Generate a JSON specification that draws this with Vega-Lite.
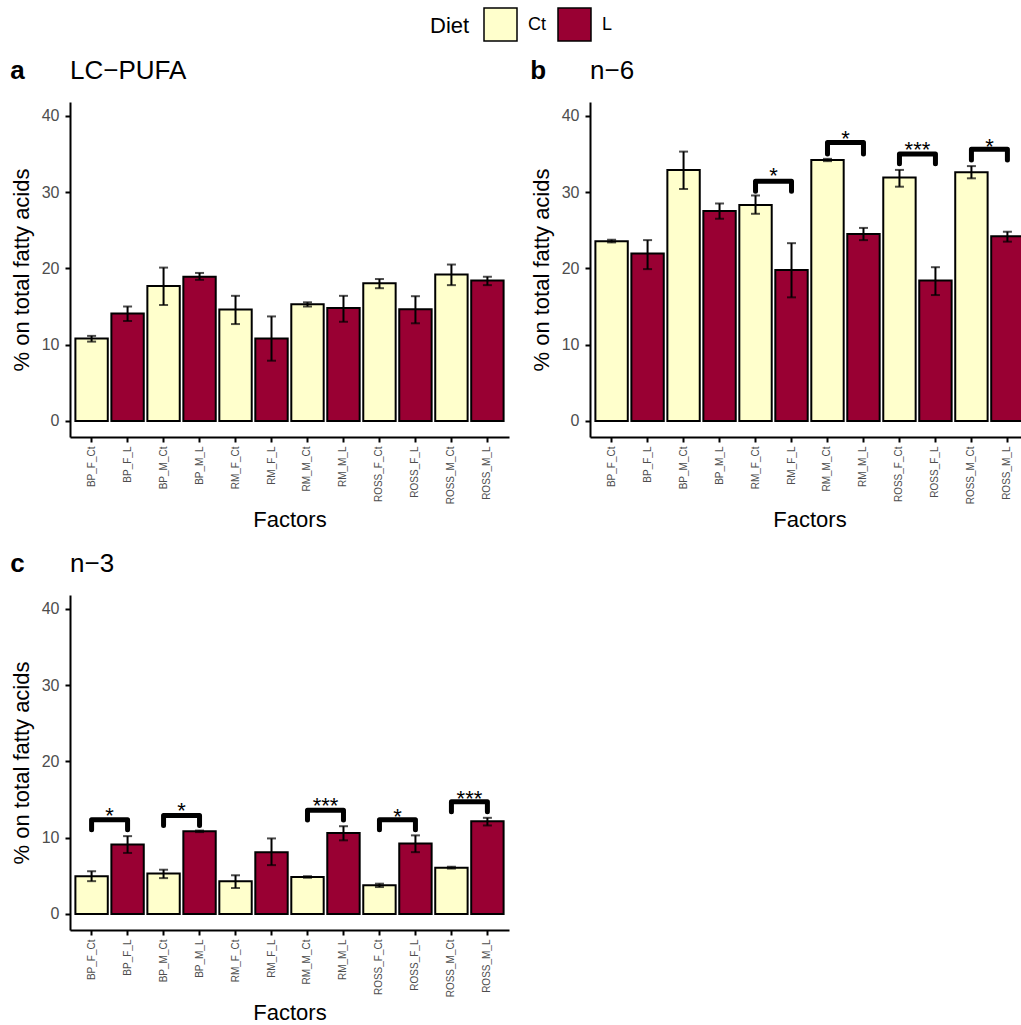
{
  "$schema": "https://vega.github.io/schema/vega-lite/v6.json",
  "padding": {"left": 10, "top": 7, "right": 0, "bottom": 0},
  "background": "white",
  "datasets": {
    "bars": [
      {"panel": "a", "factor": "BP_F_Ct", "diet": "Ct", "mean": 10.8, "lo": 10.4, "hi": 11.15},
      {"panel": "a", "factor": "BP_F_L", "diet": "L", "mean": 14.1, "lo": 13.1, "hi": 15.0},
      {"panel": "a", "factor": "BP_M_Ct", "diet": "Ct", "mean": 17.7, "lo": 15.2, "hi": 20.1},
      {"panel": "a", "factor": "BP_M_L", "diet": "L", "mean": 18.9, "lo": 18.5, "hi": 19.4},
      {"panel": "a", "factor": "RM_F_Ct", "diet": "Ct", "mean": 14.6, "lo": 12.7, "hi": 16.4},
      {"panel": "a", "factor": "RM_F_L", "diet": "L", "mean": 10.8, "lo": 7.9, "hi": 13.7},
      {"panel": "a", "factor": "RM_M_Ct", "diet": "Ct", "mean": 15.3, "lo": 15.0, "hi": 15.55},
      {"panel": "a", "factor": "RM_M_L", "diet": "L", "mean": 14.8, "lo": 13.0, "hi": 16.4},
      {"panel": "a", "factor": "ROSS_F_Ct", "diet": "Ct", "mean": 18.05, "lo": 17.4, "hi": 18.6},
      {"panel": "a", "factor": "ROSS_F_L", "diet": "L", "mean": 14.65, "lo": 12.8, "hi": 16.35},
      {"panel": "a", "factor": "ROSS_M_Ct", "diet": "Ct", "mean": 19.2, "lo": 17.8, "hi": 20.5},
      {"panel": "a", "factor": "ROSS_M_L", "diet": "L", "mean": 18.4, "lo": 17.8, "hi": 18.9},
      {"panel": "b", "factor": "BP_F_Ct", "diet": "Ct", "mean": 23.55, "lo": 23.4, "hi": 23.75},
      {"panel": "b", "factor": "BP_F_L", "diet": "L", "mean": 21.95, "lo": 19.9, "hi": 23.7},
      {"panel": "b", "factor": "BP_M_Ct", "diet": "Ct", "mean": 32.9, "lo": 30.4, "hi": 35.3},
      {"panel": "b", "factor": "BP_M_L", "diet": "L", "mean": 27.5, "lo": 26.5, "hi": 28.5},
      {"panel": "b", "factor": "RM_F_Ct", "diet": "Ct", "mean": 28.3, "lo": 27.15, "hi": 29.55},
      {"panel": "b", "factor": "RM_F_L", "diet": "L", "mean": 19.8, "lo": 16.2, "hi": 23.3},
      {"panel": "b", "factor": "RM_M_Ct", "diet": "Ct", "mean": 34.2, "lo": 34.05, "hi": 34.35},
      {"panel": "b", "factor": "RM_M_L", "diet": "L", "mean": 24.5, "lo": 23.7, "hi": 25.3},
      {"panel": "b", "factor": "ROSS_F_Ct", "diet": "Ct", "mean": 31.9, "lo": 30.7, "hi": 32.9},
      {"panel": "b", "factor": "ROSS_F_L", "diet": "L", "mean": 18.4, "lo": 16.5, "hi": 20.15},
      {"panel": "b", "factor": "ROSS_M_Ct", "diet": "Ct", "mean": 32.6, "lo": 31.8, "hi": 33.4},
      {"panel": "b", "factor": "ROSS_M_L", "diet": "L", "mean": 24.2, "lo": 23.5, "hi": 24.8},
      {"panel": "c", "factor": "BP_F_Ct", "diet": "Ct", "mean": 4.93, "lo": 4.3, "hi": 5.6},
      {"panel": "c", "factor": "BP_F_L", "diet": "L", "mean": 9.1, "lo": 8.0, "hi": 10.2},
      {"panel": "c", "factor": "BP_M_Ct", "diet": "Ct", "mean": 5.3, "lo": 4.7, "hi": 5.8},
      {"panel": "c", "factor": "BP_M_L", "diet": "L", "mean": 10.83, "lo": 10.73, "hi": 10.93},
      {"panel": "c", "factor": "RM_F_Ct", "diet": "Ct", "mean": 4.3, "lo": 3.4, "hi": 5.07},
      {"panel": "c", "factor": "RM_F_L", "diet": "L", "mean": 8.1, "lo": 6.4, "hi": 9.9},
      {"panel": "c", "factor": "RM_M_Ct", "diet": "Ct", "mean": 4.85, "lo": 4.75, "hi": 4.95},
      {"panel": "c", "factor": "RM_M_L", "diet": "L", "mean": 10.6, "lo": 9.65, "hi": 11.5},
      {"panel": "c", "factor": "ROSS_F_Ct", "diet": "Ct", "mean": 3.75, "lo": 3.53, "hi": 3.97},
      {"panel": "c", "factor": "ROSS_F_L", "diet": "L", "mean": 9.25, "lo": 8.1, "hi": 10.3},
      {"panel": "c", "factor": "ROSS_M_Ct", "diet": "Ct", "mean": 6.07, "lo": 5.95, "hi": 6.19},
      {"panel": "c", "factor": "ROSS_M_L", "diet": "L", "mean": 12.14, "lo": 11.6, "hi": 12.6}
    ],
    "brackets": [
      {"panel": "b", "id": "b1", "seq": 1, "factor": "RM_F_Ct", "v": 30.1},
      {"panel": "b", "id": "b1", "seq": 2, "factor": "RM_F_Ct", "v": 31.4},
      {"panel": "b", "id": "b1", "seq": 3, "factor": "RM_F_L", "v": 31.4},
      {"panel": "b", "id": "b1", "seq": 4, "factor": "RM_F_L", "v": 30.1},
      {"panel": "b", "id": "b2", "seq": 1, "factor": "RM_M_Ct", "v": 35.0},
      {"panel": "b", "id": "b2", "seq": 2, "factor": "RM_M_Ct", "v": 36.5},
      {"panel": "b", "id": "b2", "seq": 3, "factor": "RM_M_L", "v": 36.5},
      {"panel": "b", "id": "b2", "seq": 4, "factor": "RM_M_L", "v": 35.0},
      {"panel": "b", "id": "b3", "seq": 1, "factor": "ROSS_F_Ct", "v": 33.7},
      {"panel": "b", "id": "b3", "seq": 2, "factor": "ROSS_F_Ct", "v": 35.0},
      {"panel": "b", "id": "b3", "seq": 3, "factor": "ROSS_F_L", "v": 35.0},
      {"panel": "b", "id": "b3", "seq": 4, "factor": "ROSS_F_L", "v": 33.7},
      {"panel": "b", "id": "b4", "seq": 1, "factor": "ROSS_M_Ct", "v": 34.2},
      {"panel": "b", "id": "b4", "seq": 2, "factor": "ROSS_M_Ct", "v": 35.6},
      {"panel": "b", "id": "b4", "seq": 3, "factor": "ROSS_M_L", "v": 35.6},
      {"panel": "b", "id": "b4", "seq": 4, "factor": "ROSS_M_L", "v": 34.2},
      {"panel": "c", "id": "c1", "seq": 1, "factor": "BP_F_Ct", "v": 11.05},
      {"panel": "c", "id": "c1", "seq": 2, "factor": "BP_F_Ct", "v": 12.36},
      {"panel": "c", "id": "c1", "seq": 3, "factor": "BP_F_L", "v": 12.36},
      {"panel": "c", "id": "c1", "seq": 4, "factor": "BP_F_L", "v": 11.05},
      {"panel": "c", "id": "c2", "seq": 1, "factor": "BP_M_Ct", "v": 11.6},
      {"panel": "c", "id": "c2", "seq": 2, "factor": "BP_M_Ct", "v": 12.9},
      {"panel": "c", "id": "c2", "seq": 3, "factor": "BP_M_L", "v": 12.9},
      {"panel": "c", "id": "c2", "seq": 4, "factor": "BP_M_L", "v": 11.6},
      {"panel": "c", "id": "c3", "seq": 1, "factor": "RM_M_Ct", "v": 12.3},
      {"panel": "c", "id": "c3", "seq": 2, "factor": "RM_M_Ct", "v": 13.6},
      {"panel": "c", "id": "c3", "seq": 3, "factor": "RM_M_L", "v": 13.6},
      {"panel": "c", "id": "c3", "seq": 4, "factor": "RM_M_L", "v": 12.3},
      {"panel": "c", "id": "c4", "seq": 1, "factor": "ROSS_F_Ct", "v": 11.05},
      {"panel": "c", "id": "c4", "seq": 2, "factor": "ROSS_F_Ct", "v": 12.36},
      {"panel": "c", "id": "c4", "seq": 3, "factor": "ROSS_F_L", "v": 12.36},
      {"panel": "c", "id": "c4", "seq": 4, "factor": "ROSS_F_L", "v": 11.05},
      {"panel": "c", "id": "c5", "seq": 1, "factor": "ROSS_M_Ct", "v": 13.4},
      {"panel": "c", "id": "c5", "seq": 2, "factor": "ROSS_M_Ct", "v": 14.7},
      {"panel": "c", "id": "c5", "seq": 3, "factor": "ROSS_M_L", "v": 14.7},
      {"panel": "c", "id": "c5", "seq": 4, "factor": "ROSS_M_L", "v": 13.4}
    ],
    "stars": [
      {"panel": "b", "factor": "RM_F_Ct", "v": 32.7, "label": "*"},
      {"panel": "b", "factor": "RM_M_Ct", "v": 37.6, "label": "*"},
      {"panel": "b", "factor": "ROSS_F_Ct", "v": 36.2, "label": "***"},
      {"panel": "b", "factor": "ROSS_M_Ct", "v": 36.6, "label": "*"},
      {"panel": "c", "factor": "BP_F_Ct", "v": 13.5, "label": "*"},
      {"panel": "c", "factor": "BP_M_Ct", "v": 14.1, "label": "*"},
      {"panel": "c", "factor": "RM_M_Ct", "v": 14.8, "label": "***"},
      {"panel": "c", "factor": "ROSS_F_Ct", "v": 13.4, "label": "*"},
      {"panel": "c", "factor": "ROSS_M_Ct", "v": 15.7, "label": "***"}
    ]
  },
  "vconcat": [
    {
      "hconcat": [
        {
          "title": {"text": "a", "anchor": "start", "frame": "bounds", "fontSize": 26, "fontWeight": "bold", "offset": -26},
          "vconcat": [
            {
              "width": 439, "height": 335,
              "title": {"text": "LC−PUFA", "anchor": "start", "frame": "group", "fontSize": 26, "fontWeight": "normal", "offset": 18},
              "layer": [
                {
                  "data": {"name": "bars"},
                  "transform": [{"filter": "datum.panel === 'a'"}],
                  "mark": {"type": "bar", "stroke": "black", "strokeWidth": 2},
                  "encoding": {
                    "x": {"field": "factor", "type": "nominal", "title": "Factors", "sort": null, "scale": {"domain": ["BP_F_Ct","BP_F_L","BP_M_Ct","BP_M_L","RM_F_Ct","RM_F_L","RM_M_Ct","RM_M_L","ROSS_F_Ct","ROSS_F_L","ROSS_M_Ct","ROSS_M_L"], "paddingInner": 0.1, "paddingOuter": 0.15}},
                    "y": {"field": "mean", "type": "quantitative", "title": "% on total fatty acids", "scale": {"domain": [-2.1, 41.8], "nice": false, "zero": false}, "axis": {"values": [0, 10, 20, 30, 40]}},
                    "y2": {"datum": 0},
                    "color": {"field": "diet", "type": "nominal", "title": "Diet", "scale": {"domain": ["Ct", "L"], "range": ["#FFFFCC", "#990033"]}, "legend": {"orient": "none", "legendX": 360, "legendY": -95, "direction": "horizontal"}}
                  }
                },
                {
                  "data": {"name": "bars"},
                  "transform": [{"filter": "datum.panel === 'a'"}],
                  "mark": {"type": "errorbar", "ticks": true, "size": 9, "thickness": 2, "color": "black"},
                  "encoding": {
                    "x": {"field": "factor", "type": "nominal", "title": "Factors", "sort": null},
                    "y": {"field": "lo", "type": "quantitative", "title": "% on total fatty acids"},
                    "y2": {"field": "hi"}
                  }
                }
              ]
            }
          ]
        },
        {
          "title": {"text": "b", "anchor": "start", "frame": "bounds", "fontSize": 26, "fontWeight": "bold", "offset": -26},
          "vconcat": [
            {
              "width": 439, "height": 335,
              "title": {"text": "n−6", "anchor": "start", "frame": "group", "fontSize": 26, "fontWeight": "normal", "offset": 18},
              "layer": [
                {
                  "data": {"name": "bars"},
                  "transform": [{"filter": "datum.panel === 'b'"}],
                  "mark": {"type": "bar", "stroke": "black", "strokeWidth": 2},
                  "encoding": {
                    "x": {"field": "factor", "type": "nominal", "title": "Factors", "sort": null, "scale": {"domain": ["BP_F_Ct","BP_F_L","BP_M_Ct","BP_M_L","RM_F_Ct","RM_F_L","RM_M_Ct","RM_M_L","ROSS_F_Ct","ROSS_F_L","ROSS_M_Ct","ROSS_M_L"], "paddingInner": 0.1, "paddingOuter": 0.15}},
                    "y": {"field": "mean", "type": "quantitative", "title": "% on total fatty acids", "scale": {"domain": [-2.1, 41.8], "nice": false, "zero": false}, "axis": {"values": [0, 10, 20, 30, 40]}},
                    "y2": {"datum": 0},
                    "color": {"field": "diet", "type": "nominal", "title": "Diet", "scale": {"domain": ["Ct", "L"], "range": ["#FFFFCC", "#990033"]}, "legend": {"orient": "none", "legendX": 360, "legendY": -95, "direction": "horizontal"}}
                  }
                },
                {
                  "data": {"name": "bars"},
                  "transform": [{"filter": "datum.panel === 'b'"}],
                  "mark": {"type": "errorbar", "ticks": true, "size": 9, "thickness": 2, "color": "black"},
                  "encoding": {
                    "x": {"field": "factor", "type": "nominal", "title": "Factors", "sort": null},
                    "y": {"field": "lo", "type": "quantitative", "title": "% on total fatty acids"},
                    "y2": {"field": "hi"}
                  }
                },
                {
                  "data": {"name": "brackets"},
                  "transform": [{"filter": "datum.panel === 'b'"}],
                  "mark": {"type": "line", "color": "black", "strokeWidth": 5, "strokeJoin": "round", "strokeCap": "round"},
                  "encoding": {
                    "x": {"field": "factor", "type": "nominal", "title": "Factors", "sort": null},
                    "y": {"field": "v", "type": "quantitative", "title": "% on total fatty acids"},
                    "detail": {"field": "id"},
                    "order": {"field": "seq", "type": "quantitative"}
                  }
                },
                {
                  "data": {"name": "stars"},
                  "transform": [{"filter": "datum.panel === 'b'"}],
                  "mark": {"type": "text", "dx": 18, "dy": 12, "fontSize": 22, "baseline": "alphabetic", "color": "black"},
                  "encoding": {
                    "x": {"field": "factor", "type": "nominal", "title": "Factors", "sort": null},
                    "y": {"field": "v", "type": "quantitative", "title": "% on total fatty acids"},
                    "text": {"field": "label"}
                  }
                }
              ]
            }
          ]
        }
      ],
      "spacing": 21
    },
    {
      "title": {"text": "c", "anchor": "start", "frame": "bounds", "fontSize": 26, "fontWeight": "bold", "offset": -26},
      "vconcat": [
        {
          "width": 439, "height": 335,
          "title": {"text": "n−3", "anchor": "start", "frame": "group", "fontSize": 26, "fontWeight": "normal", "offset": 18},
          "layer": [
            {
              "data": {"name": "bars"},
              "transform": [{"filter": "datum.panel === 'c'"}],
              "mark": {"type": "bar", "stroke": "black", "strokeWidth": 2},
              "encoding": {
                "x": {"field": "factor", "type": "nominal", "title": "Factors", "sort": null, "scale": {"domain": ["BP_F_Ct","BP_F_L","BP_M_Ct","BP_M_L","RM_F_Ct","RM_F_L","RM_M_Ct","RM_M_L","ROSS_F_Ct","ROSS_F_L","ROSS_M_Ct","ROSS_M_L"], "paddingInner": 0.1, "paddingOuter": 0.15}},
                "y": {"field": "mean", "type": "quantitative", "title": "% on total fatty acids", "scale": {"domain": [-2.1, 41.8], "nice": false, "zero": false}, "axis": {"values": [0, 10, 20, 30, 40]}},
                "y2": {"datum": 0},
                "color": {"field": "diet", "type": "nominal", "title": "Diet", "scale": {"domain": ["Ct", "L"], "range": ["#FFFFCC", "#990033"]}, "legend": {"orient": "none", "legendX": 360, "legendY": -95, "direction": "horizontal"}}
              }
            },
            {
              "data": {"name": "bars"},
              "transform": [{"filter": "datum.panel === 'c'"}],
              "mark": {"type": "errorbar", "ticks": true, "size": 9, "thickness": 2, "color": "black"},
              "encoding": {
                "x": {"field": "factor", "type": "nominal", "title": "Factors", "sort": null},
                "y": {"field": "lo", "type": "quantitative", "title": "% on total fatty acids"},
                "y2": {"field": "hi"}
              }
            },
            {
              "data": {"name": "brackets"},
              "transform": [{"filter": "datum.panel === 'c'"}],
              "mark": {"type": "line", "color": "black", "strokeWidth": 5, "strokeJoin": "round", "strokeCap": "round"},
              "encoding": {
                "x": {"field": "factor", "type": "nominal", "title": "Factors", "sort": null},
                "y": {"field": "v", "type": "quantitative", "title": "% on total fatty acids"},
                "detail": {"field": "id"},
                "order": {"field": "seq", "type": "quantitative"}
              }
            },
            {
              "data": {"name": "stars"},
              "transform": [{"filter": "datum.panel === 'c'"}],
              "mark": {"type": "text", "dx": 18, "dy": 12, "fontSize": 22, "baseline": "alphabetic", "color": "black"},
              "encoding": {
                "x": {"field": "factor", "type": "nominal", "title": "Factors", "sort": null},
                "y": {"field": "v", "type": "quantitative", "title": "% on total fatty acids"},
                "text": {"field": "label"}
              }
            }
          ]
        }
      ]
    }
  ],
  "spacing": 20,
  "config": {
    "font": "Liberation Sans",
    "view": {"stroke": null},
    "title": {"color": "black"},
    "axis": {"domainColor": "black", "domainWidth": 2, "tickColor": "black", "tickWidth": 2, "tickSize": 5, "grid": false, "labelColor": "#4D4D4D", "titleColor": "black", "titleFontWeight": "normal", "titleFontSize": 22},
    "axisY": {"labelFontSize": 16, "labelPadding": 6, "titlePadding": 8},
    "axisX": {"labelFontSize": 10, "labelAngle": -90, "labelPadding": 4, "titlePadding": 6},
    "legend": {"titleFontSize": 22, "titleFontWeight": "normal", "labelFontSize": 18, "symbolType": "square", "symbolSize": 1089, "symbolStrokeColor": "black", "symbolStrokeWidth": 1.5, "labelColor": "black", "titleColor": "black", "titleOrient": "left", "labelOffset": 10, "columnPadding": 9, "titlePadding": 13, "padding": 0, "symbolOpacity": 1}
  }
}
